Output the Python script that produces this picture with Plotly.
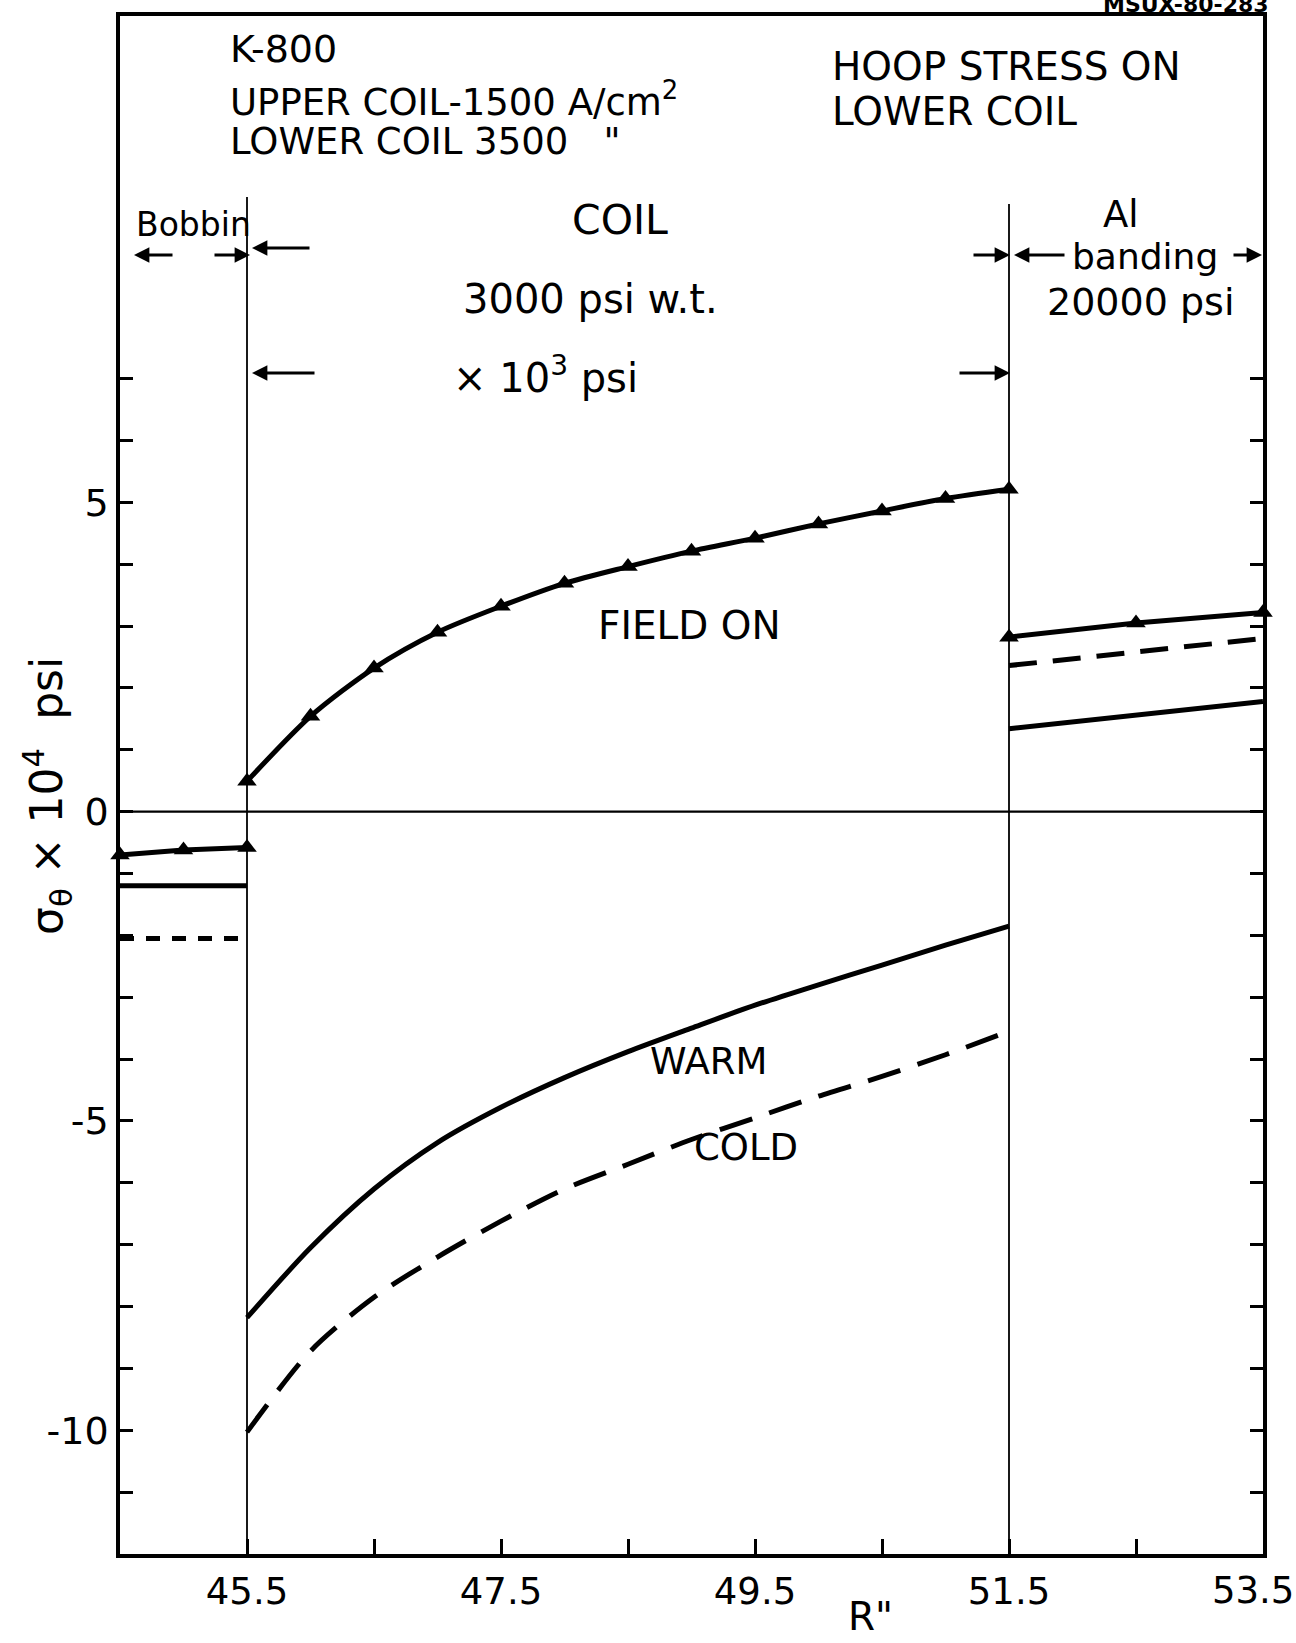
import plotly.graph_objects as go

# ---------------- data ----------------
r_coil = [45.5, 46.0, 46.5, 47.0, 47.5, 48.0, 48.5, 49.0, 49.5, 50.0, 50.5, 51.0, 51.5]
field_on_coil = [0.49, 1.54, 2.32, 2.90, 3.32, 3.69, 3.96, 4.21, 4.42, 4.65, 4.86, 5.06, 5.21]
warm_coil = [-8.18, -7.05, -6.1, -5.35, -4.78, -4.3, -3.88, -3.5, -3.13, -2.8, -2.48, -2.16, -1.85]
cold_coil = [-10.03, -8.72, -7.85, -7.2, -6.62, -6.1, -5.7, -5.3, -4.95, -4.6, -4.28, -3.93, -3.55]

r_bobbin = [44.5, 45.0, 45.5]
field_on_bobbin = [-0.70, -0.62, -0.58]
warm_bobbin = [-1.20, -1.20, -1.20]
cold_bobbin = [-2.05, -2.05, -2.05]

r_band = [51.5, 52.5, 53.5]
field_on_band = [2.82, 3.05, 3.22]
warm_band = [1.34, 1.56, 1.78]
cold_band = [2.36, 2.58, 2.80]

x_tickvals = [45.5, 46.5, 47.5, 48.5, 49.5, 50.5, 51.5, 52.5, 53.5]
x_ticktext = ["45.5", "", "47.5", "", "49.5", "", "51.5", "", ""]
last_x_label = "53.5"
y_tickvals = list(range(-11, 8))
y_labels = {-10: "-10", -5: "-5", 0: "0", 5: "5"}
y_ticktext = [y_labels.get(v, "") for v in y_tickvals]

# ---------------- geometry helpers ----------------
W, H = 1296, 1643
ML, MR, MT, MB = 120, 33, 16, 89
X0, X1 = 44.5, 53.5
Y0, Y1 = -12.0, 12.86
PW = W - ML - MR
PH = H - MT - MB


def X(px):
    return X0 + (px - ML) / PW * (X1 - X0)


def Y(py):
    return Y1 - (py - MT) / PH * (Y1 - Y0)


def PX(px):
    return (px - ML) / PW


def PY(py):
    return (H - MB - py) / PH


FONT = "DejaVu Sans"
BLACK = "black"

fig = go.Figure()


def add_line(x, y, dash="solid", marker=False, width=5, shape="spline"):
    fig.add_trace(go.Scatter(
        x=x, y=y,
        mode="lines+markers" if marker else "lines",
        line=dict(color=BLACK, width=width, dash=dash, shape=shape, smoothing=0.8),
        marker=dict(symbol="triangle-up", size=17, color=BLACK) if marker else None,
        showlegend=False, hoverinfo="skip", cliponaxis=False,
    ))


# field on
add_line(r_coil, field_on_coil, marker=True)
add_line(r_bobbin, field_on_bobbin, marker=True, shape="linear")
add_line(r_band, field_on_band, marker=True, shape="linear")
# warm
add_line(r_coil, warm_coil)
add_line(r_bobbin, warm_bobbin, shape="linear")
add_line(r_band, warm_band, shape="linear")
# cold
add_line(r_coil, cold_coil, dash="34px,18px")
add_line(r_bobbin, cold_bobbin, dash="14px,12px", shape="linear")
add_line(r_band, cold_band, dash="28px,16px", shape="linear")

# region boundaries and zero line
fig.add_shape(type="line", x0=45.5, x1=45.5, y0=Y0, y1=Y(197), line=dict(color=BLACK, width=1.8))
fig.add_shape(type="line", x0=51.5, x1=51.5, y0=Y0, y1=Y(204), line=dict(color=BLACK, width=1.8))
fig.add_shape(type="line", x0=X0, x1=X1, y0=0, y1=0, line=dict(color=BLACK, width=2.4))

ann = []


def text(px, py, s, size=38, xanchor="center", yanchor="middle", angle=0):
    ann.append(dict(x=PX(px), y=PY(py), xref="paper", yref="paper", text=s, showarrow=False,
                    font=dict(family=FONT, size=size, color=BLACK),
                    xanchor=xanchor, yanchor=yanchor, textangle=angle))


def arrow(head_px, tail_px, py):
    ann.append(dict(x=X(head_px), y=Y(py), ax=X(tail_px), ay=Y(py), xref="x", yref="y",
                    axref="x", ayref="y", text="", showarrow=True, arrowhead=2,
                    arrowsize=1.1, arrowwidth=2.8, arrowcolor=BLACK))


# header texts
text(228, 49, "K-800", size=38, xanchor="left")
text(228, 100, "UPPER COIL-1500 A/cm<sup>2</sup>", size=37, xanchor="left")
text(228, 141, "LOWER COIL 3500   \"", size=37, xanchor="left")
text(830, 66, "HOOP STRESS ON", size=39, xanchor="left")
text(830, 111, "LOWER COIL", size=39, xanchor="left")

# region labels
text(193, 225, "Bobbin", size=33)
text(620, 220, "COIL", size=41)
text(590, 299, "3000 psi w.t.", size=40)
text(545, 375, "\u00d7 10<sup>3</sup> psi", size=40)
text(1121, 214, "Al", size=37)
text(1145, 257, "banding", size=36)
text(1140, 302, "20000 psi", size=38)

# curve labels
text(689, 625, "FIELD ON", size=39)
text(709, 1061, "WARM", size=37)
text(746, 1147, "COLD", size=37)

# arrows
arrow(134, 174, 255)
arrow(250, 213, 255)
arrow(252, 311, 248)
arrow(252, 316, 373)
arrow(1010, 958, 373)
arrow(1010, 972, 255)
arrow(1014, 1066, 255)
arrow(1262, 1232, 255)

# axis titles and extras
text(47, 796, "\u03c3<sub>\u03b8</sub> \u00d7 10<sup>4</sup>  psi", size=44, angle=-90)
text(870, 1616, "R\"", size=39)
text(1186, 5, "<b>MSUX-80-283</b>", size=22)
text(1253, 1590, last_x_label, size=37)

fig.update_layout(
    width=W, height=H,
    margin=dict(l=ML, r=MR, t=MT, b=MB),
    paper_bgcolor="white", plot_bgcolor="white",
    annotations=ann,
    xaxis=dict(range=[X0, X1], showgrid=False, zeroline=False,
               showline=True, linewidth=3.5, linecolor=BLACK, mirror=True,
               ticks="inside", ticklen=15, tickwidth=3, tickcolor=BLACK,
               tickvals=x_tickvals, ticktext=x_ticktext, ticklabelstandoff=2,
               tickfont=dict(family=FONT, size=37, color=BLACK)),
    yaxis=dict(range=[Y0, Y1], showgrid=False, zeroline=False,
               showline=True, linewidth=3.5, linecolor=BLACK, mirror="allticks",
               ticks="inside", ticklen=13, tickwidth=3, tickcolor=BLACK,
               tickvals=y_tickvals, ticktext=y_ticktext, ticklabelstandoff=0,
               tickfont=dict(family=FONT, size=38, color=BLACK)),
)

fig.write_html("out.html")
